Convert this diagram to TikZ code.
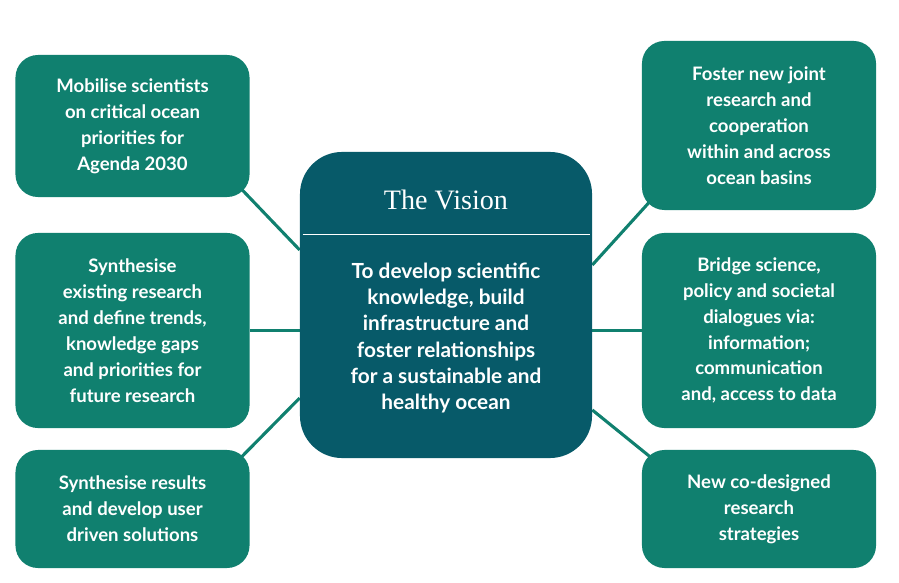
\documentclass[tikz,border=0pt]{standalone}
\usepackage{fontspec}
\setmainfont{Lato}
\newfontfamily\titlefont{Liberation Serif}
\usepackage{xcolor}
\usepackage{tikz}
\usetikzlibrary{calc, backgrounds}
\definecolor{oceangreen}{HTML}{10806F}
\definecolor{oceandeep}{HTML}{075A69}

\begin{document}
\begin{tikzpicture}[x=0.025cm, y=-0.025cm,
    aim/.style={rectangle, rounded corners=16pt, minimum width=5.85cm, fill=oceangreen, text=white, font=\bfseries\fontsize{13.2}{18.4}\selectfont, align=center, inner sep=0pt},
    hub/.style={rectangle, rounded corners=30pt, minimum width=7.3cm, minimum height=7.65cm, fill=oceandeep, inner sep=0pt},
    link/.style={-, draw=oceangreen, line width=2.2pt}
]
    \useasboundingbox (0,0) rectangle (899,583);

    \node[hub] (vision) at (446, 305) {};
    \node[text=white, font=\titlefont\fontsize{20}{23}\selectfont] (title) at (446, 200) {The Vision};
    \node[text=white, align=center, font=\bfseries\fontsize{14.8}{18.6}\selectfont] (goal) at (446, 338) {To develop scientific\\knowledge, build\\infrastructure and\\foster relationships\\for a sustainable and\\healthy ocean};
    \draw[white, line width=0.6pt] ($(vision.north west)+(3,83)$) -- ($(vision.north east)+(-2,83)$);

    \node[aim, minimum height=3.55cm] (mobilise) at (132.5, 126) {Mobilise scientists\\on critical ocean\\priorities for\\Agenda 2030};
    \node[aim, minimum height=4.875cm] (synthesise) at (132.5, 330.5) {Synthesise\\existing research\\and define trends,\\knowledge gaps\\and priorities for\\future research};
    \node[aim, minimum height=2.95cm] (solutions) at (132.5, 509) {Synthesise results\\and develop user\\driven solutions};

    \node[aim, minimum height=4.225cm] (foster) at (759, 125.5) {Foster new joint\\research and\\cooperation\\within and across\\ocean basins};
    \node[aim, minimum height=4.875cm] (bridge) at (759, 330.5) {Bridge science,\\policy and societal\\dialogues via:\\information;\\communication\\and, access to data};
    \node[aim, minimum height=2.95cm] (codesign) at (759, 509) {New co-designed\\research\\strategies};

    % connectors sit behind the boxes
    \begin{pgfonlayer}{background}
        \draw[link] ($(mobilise.south east)+(-12,-12)$) -- ($(vision.west)+(0,-55)$);
        \draw[link] (synthesise.east) -- (synthesise.east -| vision.west);
        \draw[link] ($(solutions.north east)+(-12,11)$) -- ($(vision.west)+(0,93)$);
        \draw[link] ($(foster.south west)+(12,-13)$) -- ($(vision.east)+(0,-40)$);
        \draw[link] (bridge.west) -- (bridge.west -| vision.east);
        \draw[link] ($(codesign.north west)+(12,10)$) -- ($(vision.east)+(0,105)$);
    \end{pgfonlayer}
\end{tikzpicture}
\end{document}
